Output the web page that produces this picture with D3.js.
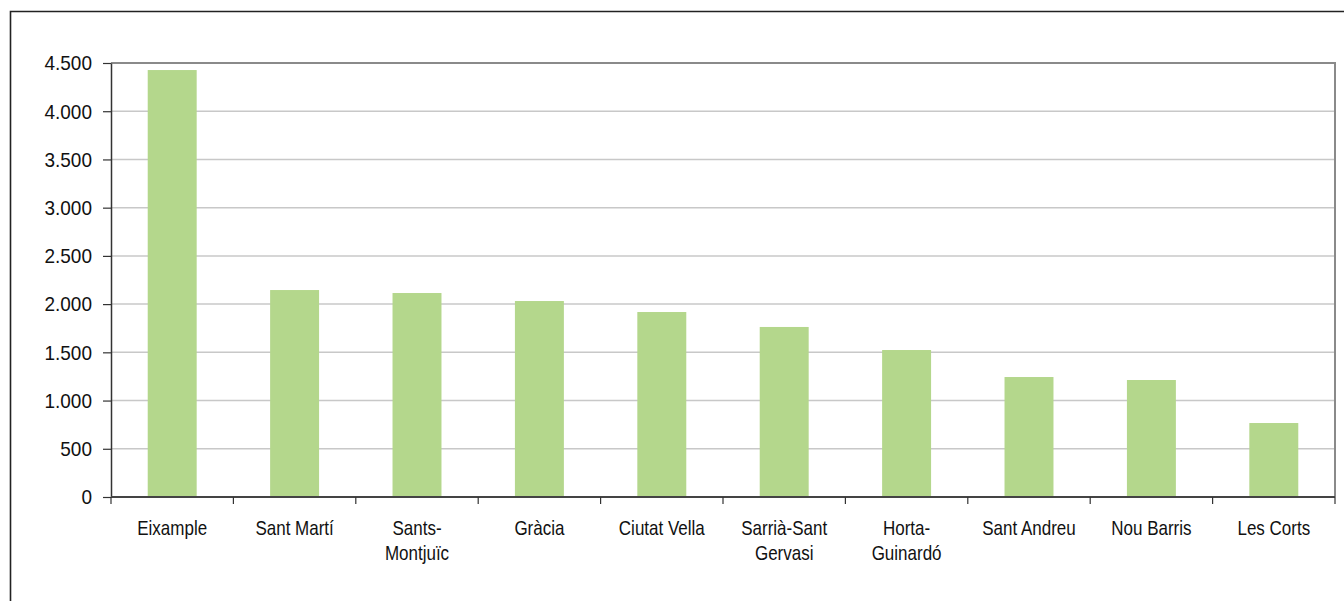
<!DOCTYPE html>
<html>
<head>
<meta charset="utf-8">
<script src="https://cdn.jsdelivr.net/npm/d3@7"></script>
<style>
  html, body { margin: 0; padding: 0; background: #fff; }
  svg { display: block; }
  text { font-family: "Liberation Sans", Arial, sans-serif; fill: #111; }
</style>
</head>
<body>
<svg id="chart" width="1344" height="601"></svg>
<script>
const categories = [
  ["Eixample"], ["Sant Martí"], ["Sants-", "Montjuïc"], ["Gràcia"], ["Ciutat Vella"],
  ["Sarrià-Sant", "Gervasi"], ["Horta-", "Guinardó"], ["Sant Andreu"], ["Nou Barris"], ["Les Corts"]
];
const values = [4427, 2146, 2115, 2032, 1918, 1763, 1524, 1244, 1213, 767];
const yTicks = [0, 500, 1000, 1500, 2000, 2500, 3000, 3500, 4000, 4500];
const yTickLabels = ["0", "500", "1.000", "1.500", "2.000", "2.500", "3.000", "3.500", "4.000", "4.500"];

const svg = d3.select("#chart");
const pL = 111, pR = 1335, pT = 63, pB = 497;

// outer frame
svg.append("path")
  .attr("d", "M10.5,605 V11.5 H1350")
  .attr("fill", "none").attr("stroke", "#222").attr("stroke-width", 1.6);

const keys = categories.map((c, i) => i);
const x = d3.scaleBand().domain(keys).range([pL, pR]).paddingInner(0.6).paddingOuter(0.3);
const xb = d3.scaleBand().domain(keys).range([pL, pR]);
const y = d3.scaleLinear().domain([0, 4500]).range([pB, pT]);

// gridlines
svg.append("g").selectAll("line").data(yTicks.filter(t => t > 0 && t < 4500)).join("line")
  .attr("x1", pL).attr("x2", pR)
  .attr("y1", d => y(d)).attr("y2", d => y(d))
  .attr("stroke", "#c8c8c8").attr("stroke-width", 1.5);

// plot border top & right
svg.append("path")
  .attr("d", `M${pL},${pT} H${pR} V${pB}`)
  .attr("fill", "none").attr("stroke", "#8a8a8a").attr("stroke-width", 2);

// bars
svg.append("g").selectAll("rect").data(values).join("rect")
  .attr("x", (d, i) => x(i))
  .attr("width", x.bandwidth())
  .attr("y", d => y(d))
  .attr("height", d => y(0) - y(d))
  .attr("fill", "#b4d78c");

// y axis
const yAxis = d3.axisLeft(y).tickValues(yTicks).tickSize(8).tickSizeOuter(0)
  .tickFormat((d, i) => yTickLabels[i]);
const gy = svg.append("g").attr("transform", `translate(${pL},0)`).call(yAxis);
gy.select(".domain").attr("stroke", "#333").attr("stroke-width", 1.5);
gy.selectAll(".tick line").attr("stroke", "#333").attr("stroke-width", 1.2);
gy.selectAll(".tick text")
  .attr("x", 0).attr("dy", "0.34em")
  .attr("transform", "translate(-19,0) scale(0.95,1)")
  .style("font-size", "20px").style("font-family", "'Liberation Sans', Arial, sans-serif")
  .attr("fill", "#111");

// x axis line & ticks at band boundaries
const boundaries = keys.map(k => xb(k)).concat([pR]);
svg.append("line").attr("x1", pL).attr("x2", pR).attr("y1", pB).attr("y2", pB)
  .attr("stroke", "#444").attr("stroke-width", 2);
svg.append("g").selectAll("line").data(boundaries).join("line")
  .attr("x1", d => d).attr("x2", d => d).attr("y1", pB).attr("y2", pB + 7)
  .attr("stroke", "#333").attr("stroke-width", 1.2);

// category labels
const lab = svg.append("g").selectAll("text").data(categories).join("text")
  .attr("transform", (d, i) => `translate(${xb(i) + xb.bandwidth() / 2},535) scale(0.85,1)`)
  .attr("text-anchor", "middle")
  .style("font-size", "20px");
lab.selectAll("tspan").data(d => d).join("tspan")
  .attr("x", 0).attr("y", (d, j) => j * 25)
  .text(d => d);
</script>
</body>
</html>
